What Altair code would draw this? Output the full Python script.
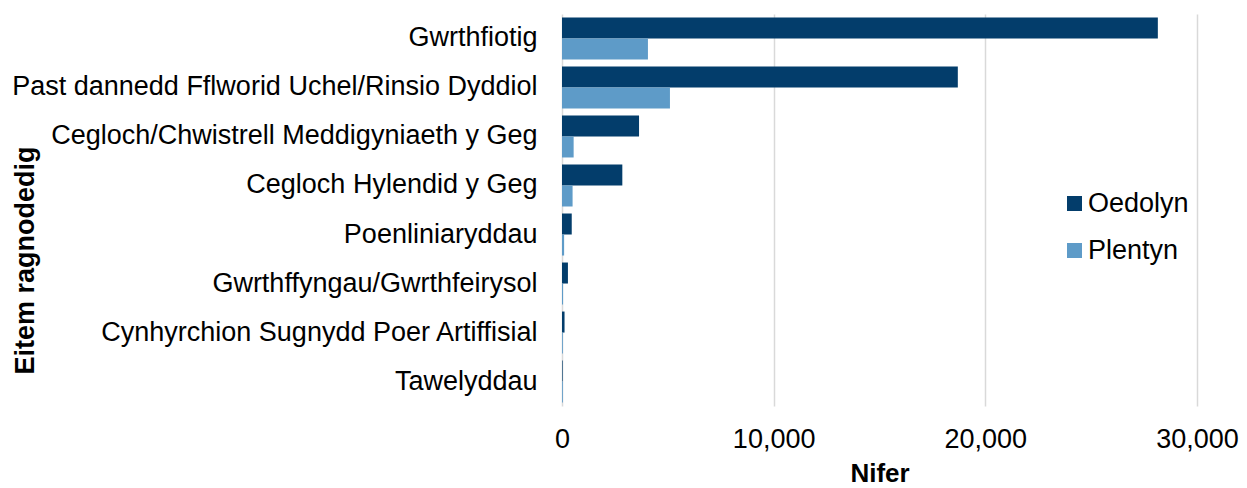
import altair as alt
import pandas as pd

categories = [
    "Gwrthfiotig",
    "Past dannedd Fflworid Uchel/Rinsio Dyddiol",
    "Cegloch/Chwistrell Meddigyniaeth y Geg",
    "Cegloch Hylendid y Geg",
    "Poenliniaryddau",
    "Gwrthffyngau/Gwrthfeirysol",
    "Cynhyrchion Sugnydd Poer Artiffisial",
    "Tawelyddau",
]
oedolyn = [28150, 18700, 3640, 2850, 460, 280, 120, 30]
plentyn = [4060, 5100, 550, 500, 100, 50, 40, 40]
series = ["Oedolyn", "Plentyn"]
colors = ["#033d6b", "#5e9bc8"]
x_ticks = [0, 10000, 20000, 30000]

rows = []
for c, o, p in zip(categories, oedolyn, plentyn):
    rows.append({"item": c, "series": series[0], "value": o})
    rows.append({"item": c, "series": series[1], "value": p})
df = pd.DataFrame(rows)

FONT = "Liberation Sans"

chart = (
    alt.Chart(df)
    .mark_bar()
    .encode(
        x=alt.X(
            "value:Q",
            scale=alt.Scale(domain=[0, 30000], nice=False),
            axis=alt.Axis(
                values=x_ticks,
                format=",.0f",
                title="Nifer",
                grid=True,
                gridColor="#d9d9d9",
                gridWidth=1.5,
                domain=False,
                ticks=False,
                tickSize=0,
                labelFlush=False,
                labelFontSize=27,
                labelPadding=20,
                labelFont=FONT,
                labelColor="#000000",
                titleFont=FONT,
                titleFontSize=26,
                titleFontWeight="bold",
                titleColor="#000000",
                titleBaseline="alphabetic",
                titleY=75,
            ),
        ),
        y=alt.Y(
            "item:N",
            sort=categories,
            scale=alt.Scale(paddingInner=0.143, paddingOuter=0.07),
            axis=alt.Axis(
                title="Eitem ragnodedig",
                domain=False,
                ticks=False,
                tickSize=0,
                labelFontSize=27,
                labelPadding=25,
                labelLimit=700,
                labelFont=FONT,
                labelColor="#000000",
                titleFont=FONT,
                titleFontSize=27,
                titleFontWeight="bold",
                titleColor="#000000",
                titleAngle=270,
                titleX=-529,
                titleY=246,
                titleAlign="center",
                titleBaseline="alphabetic",
            ),
        ),
        yOffset=alt.YOffset("series:N", sort=series),
        color=alt.Color(
            "series:N",
            scale=alt.Scale(domain=series, range=colors),
            legend=alt.Legend(
                title=None,
                orient="none",
                legendX=499,
                legendY=176,
                symbolType="square",
                symbolSize=225,
                symbolStrokeWidth=0,
                labelFontSize=27,
                labelFont=FONT,
                labelColor="#000000",
                labelOffset=0,
                rowPadding=19,
                padding=0,
            ),
        ),
    )
    .properties(
        width=635,
        height=392,
        autosize=alt.AutoSizeParams(type="none"),
        padding={"left": 554, "top": 6, "right": 42, "bottom": 80},
    )
    .configure_view(stroke=None)
)

chart.save("out.html", embed_options={"renderer": "svg", "actions": False})
